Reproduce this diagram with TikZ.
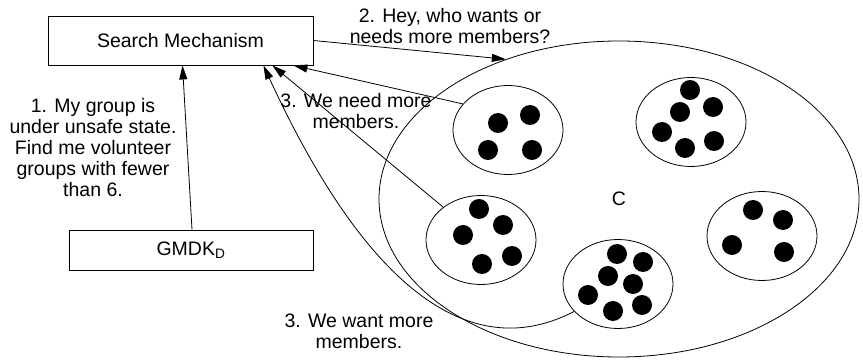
\documentclass[tikz,border=0pt]{standalone}
\usepackage{fontspec}
\setmainfont{Liberation Sans}
\usetikzlibrary{arrows.meta,shapes.geometric}

\begin{document}
\begin{tikzpicture}[x=1pt,y=-1pt,
		font=\fontsize{19.5}{21}\selectfont,
		box/.style={draw, line width=0.9pt, inner sep=0pt},
		grp/.style={draw, ellipse, line width=0.8pt, inner sep=0pt, minimum width=110pt, minimum height=89pt},
		msg/.style={align=center},
		arr/.style={-{Triangle[length=14pt,width=8pt]}, line width=0.8pt}]
		\useasboundingbox (0,0) rectangle (863,363);
		% the two boxes on the left
		\node[box, minimum width=265pt, minimum height=49pt] (search) at (180.5,40.5) {Search Mechanism};
		\node[box, minimum width=244pt, minimum height=40pt] (gmdk) at (191,250) {GMDK\textsubscript{D}};
		% cluster C and its groups
		\node[draw, ellipse, line width=0.8pt, inner sep=0pt, minimum width=480pt, minimum height=316pt] (C) at (619,199) {C};
		\node[grp] (g1) at (508,130) {};
		\node[grp] (g2) at (691,122) {};
		\node[grp] (g3) at (481,240) {};
		\node[grp] (g4) at (618,284) {};
		\node[grp] (g5) at (762,236) {};
		\foreach \p in {(498,123),(530,115),(488,150),(532,150),
			(690,90),(713,107),(680,112),(662,132),(714,141),(685,148),
			(479,209),(503,225),(463,235),(512,256),(482,264),
			(617,254),(643,262),(608,276),(633,284),(588,295),(642,305),(613,311),
			(753,210),(783,220),(732,245),(784,252)}
			\fill \p circle[radius=10pt];
		% messages
		\draw[arr] ([xshift=1pt]gmdk.north) -- ([xshift=2pt]search.south);
		\node[msg] (msg1) at (93,148) {1. My group is\\under unsafe state.\\Find me volunteer\\groups with fewer\\than 6.};
		\draw[arr] (search.east) -- (C.129);
		\node[msg] (msg2) at (450,26) {2. Hey, who wants or\\needs more members?};
		\draw[arr] (g1.150) -- ([xshift=-20pt]search.south east);
		\draw[arr] (g3.139) -- ([xshift=-41pt]search.south east);
		\node[msg] (msg3a) at (356,111) {3. We need more\\members.};
		\draw[arr] (g4.212) .. controls (500,350) and (390,340) .. ([xshift=-50pt]search.south east);
		\node[msg] (msg3b) at (359,331) {3. We want more\\members.};
	\end{tikzpicture}
\end{document}
